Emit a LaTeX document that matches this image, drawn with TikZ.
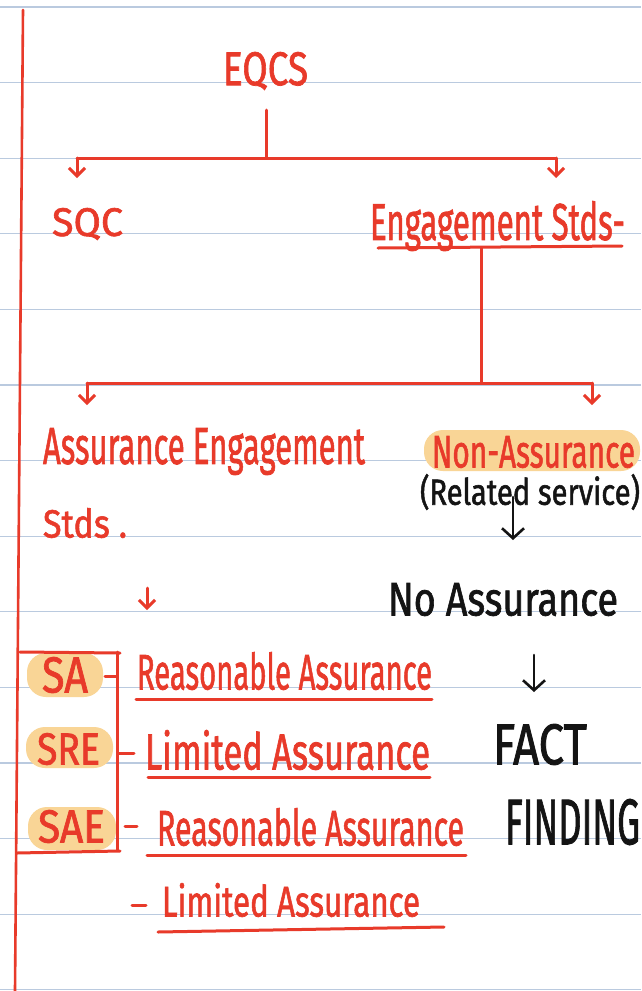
\documentclass[tikz,border=0pt]{standalone}
\usepackage{fontspec}
\setmainfont{Fira Sans}[FakeBold=1.6]
\usepackage{graphicx}
\usetikzlibrary{arrows.meta}
\definecolor{pen}{HTML}{E83A2A}
\definecolor{rulecol}{HTML}{BACADF}
\definecolor{hl}{HTML}{F9D596}
\definecolor{ink}{HTML}{141414}
\newcommand{\hwtext}[3]{\resizebox*{#1pt}{#2pt}{#3}}
\begin{document}
\begin{tikzpicture}[x=1pt,y=-1pt,
  redline/.style={draw=pen,line width=3pt,line cap=round},
  blackline/.style={draw=ink,line width=2.6pt,line cap=round},
  downarrow/.style={-{Straight Barb[length=8pt,width=16pt]}},
  bigarrow/.style={-{Straight Barb[length=10pt,width=22pt]}},
  txt/.style={anchor=north west,inner sep=0pt,outer sep=0pt},
  redtxt/.style={txt,text=pen},
  blacktxt/.style={txt,text=ink},
  hlbox/.style={fill=hl,rounded corners=19pt}]
\useasboundingbox (0,0) rectangle (641,991);
\fill[white] (0,0) rectangle (641,991);
% ruled lines
\foreach \y in {7,82.6,158.2,233.8,309.4,385,460.6,536.2,611.8,687.4,763,838.6,914.2,989.8}
  \draw[rulecol,line width=1.3pt] (0,\y) -- (641,\y);
% margin
\draw[redline,line width=2.6pt] (23,10) -- (15,991);
% highlights
\fill[hlbox] (424,430) rectangle (640,471);
\fill[hlbox] (27,653) rectangle (103,697);
\fill[hlbox] (26,727) rectangle (113,768);
\fill[hlbox] (28,807) rectangle (116,850);
% texts
\node[redtxt] (eqcs) at (223,52) {\hwtext{85}{38}{EQCS}};
\node[redtxt] (sqc) at (52,208) {\hwtext{71}{32}{SQC}};
\node[redtxt] (eng) at (370,201) {\hwtext{255}{50}{Engagement Stds-}};
\node[redtxt] (aeng) at (43,428) {\hwtext{322}{47}{Assurance Engagement}};
\node[redtxt] (stds) at (43,508) {\hwtext{84}{30}{Stds .}};
\node[redtxt] (nonas) at (432,436) {\hwtext{203}{32}{Non-Assurance}};
\node[blacktxt] (rel) at (420,474) {\hwtext{220}{36}{(Related service)}};
\node[blacktxt] (noas) at (388,583) {\hwtext{230}{33}{No Assurance}};
\node[redtxt] (ra1) at (137,652) {\hwtext{295}{38}{Reasonable Assurance}};
\node[redtxt] (la1) at (145,730) {\hwtext{285}{40}{Limited Assurance}};
\node[redtxt] (ra2) at (157,808) {\hwtext{307}{38}{Reasonable Assurance}};
\node[redtxt] (la2) at (162,883) {\hwtext{258}{34}{Limited Assurance}};
\node[blacktxt] (fact) at (493,724) {\hwtext{94}{41}{FACT}};
\node[blacktxt] (find) at (505,799) {\hwtext{135}{46}{FINDING}};
\node[redtxt] (sa) at (42,657) {\hwtext{46}{36}{SA}};
\node[redtxt] (sre) at (37,733) {\hwtext{63}{32}{SRE}};
\node[redtxt] (sae) at (38,810) {\hwtext{67}{33}{SAE}};
% tree coordinates
\coordinate (t1) at (266,110);
\coordinate (t2) at (266,158);
\coordinate (tl) at (77,158);
\coordinate (tr) at (556,158);
\coordinate (u1a) at (378,248);
\coordinate (u1b) at (622,246);
\coordinate (e1) at (481,248);
\coordinate (e2) at (481,383);
\coordinate (sl) at (87,383);
\coordinate (sr) at (592,383);
\draw[redline] (t1) -- (t2);
\draw[redline] (tl) -- (tr);
\draw[redline,downarrow] (tl) -- ++(0,20);
\draw[redline,downarrow] (tr) -- ++(0,20);
\draw[redline] (u1a) -- (u1b);
\draw[redline] (e1) -- (e2);
\draw[redline] (sl) -- (sr);
\draw[redline,downarrow] (sl) -- ++(0,22);
\draw[redline,downarrow] (sr) -- ++(0,22);
% small arrows
\coordinate (ra) at (147,588);
\draw[redline,downarrow] (ra) -- ++(0,22);
\coordinate (ba) at (513,497);
\draw[blackline,bigarrow] (ba) -- ++(0,43);
\coordinate (bb) at (534,655);
\draw[blackline,bigarrow] (bb) -- ++(0,37);
% bracket
\coordinate (bk1) at (20,652);
\coordinate (bk2) at (120,653);
\coordinate (bk3) at (117,652);
\coordinate (bk4) at (117,850);
\coordinate (bk5) at (17,853);
\coordinate (bk6) at (120,851);
\draw[redline] (bk1) -- (bk2);
\draw[redline] (bk3) -- (bk4);
\draw[redline] (bk5) -- (bk6);
% dashes
\draw[redline] (105,676) -- (117,676);
\draw[redline] (118,753) -- (134,753);
\draw[redline] (125,826) -- (137,826);
\draw[redline] (132,905) -- (146,905);
% underlines
\draw[redline] (136,699) -- (432,699);
\draw[redline] (148,777) -- (430,777);
\draw[redline] (147,855) -- (466,855);
\draw[redline] (158,932) -- (444,927);
\end{tikzpicture}
\end{document}
